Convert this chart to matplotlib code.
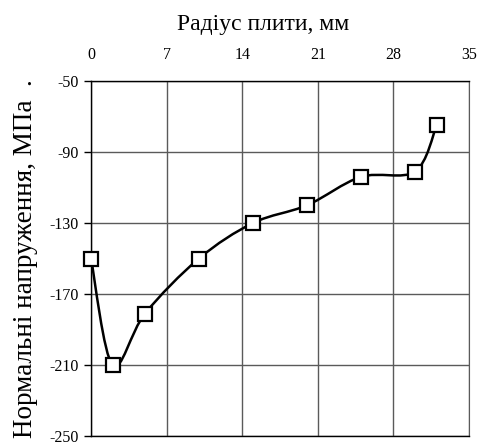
import matplotlib.pyplot as plt
import numpy as np
from matplotlib.path import Path
from matplotlib.patches import PathPatch

plt.rcParams['font.family'] = ['Liberation Serif', 'DejaVu Serif']
plt.rcParams['axes.unicode_minus'] = False

# radius (mm) and normal stress (MPa)
radius = [0, 2, 5, 10, 15, 20, 25, 30, 32]
stress = [-150, -210, -181, -150, -130, -120, -104, -101, -75]
xticks = [0, 7, 14, 21, 28, 35]
yticks = [-50, -90, -130, -170, -210, -250]


def smooth_path(x, y):
    # Catmull-Rom style bezier, like a spreadsheet "smoothed line"
    x = np.asarray(x, float)
    y = np.asarray(y, float)
    n = len(x)
    verts = [(x[0], y[0])]
    codes = [Path.MOVETO]
    for i in range(n - 1):
        p0 = i - 1 if i > 0 else i
        p3 = i + 2 if i + 2 < n else i + 1
        c1 = (x[i] + (x[i + 1] - x[p0]) / 6, y[i] + (y[i + 1] - y[p0]) / 6)
        c2 = (x[i + 1] - (x[p3] - x[i]) / 6, y[i + 1] - (y[p3] - y[i]) / 6)
        verts += [c1, c2, (x[i + 1], y[i + 1])]
        codes += [Path.CURVE4] * 3
    return Path(verts, codes)


fig = plt.figure(figsize=(4.81, 4.47), dpi=100)
ax = fig.add_axes([0.1892, 0.0246, 0.7859, 0.7942])

ax.add_patch(PathPatch(smooth_path(radius, stress), fill=False, color='black', lw=1.8,
                       zorder=3, clip_on=False))
ax.plot(radius, stress, ls='none', marker='s', ms=9.5, mfc='white', mec='black', mew=1.6,
        zorder=4, clip_on=False)

ax.set_xlim(0, 35)
ax.set_ylim(-250, -50)
ax.set_xticks(xticks)
ax.set_yticks(yticks)
ax.xaxis.tick_top()
ax.xaxis.set_label_position('top')
ax.tick_params(axis='x', length=0, pad=13, labelsize=11.5)
ax.tick_params(axis='y', length=5, width=1, direction='out', pad=4, labelsize=11.5)
ax.grid(True, color='#5a5a5a', lw=1)
ax.set_axisbelow(True)

for s in ['left', 'top', 'bottom']:
    ax.spines[s].set_color('black')
    ax.spines[s].set_linewidth(1)
ax.spines['right'].set_color('#5a5a5a')

ax.set_xlabel('Радіус плити, мм', fontsize=17, labelpad=12)
ax.xaxis.label.set_x(0.456)
ax.set_ylabel('Нормальні напруження, МПа  .', fontsize=19.5, labelpad=8)

fig.savefig('out.png', dpi=100)
